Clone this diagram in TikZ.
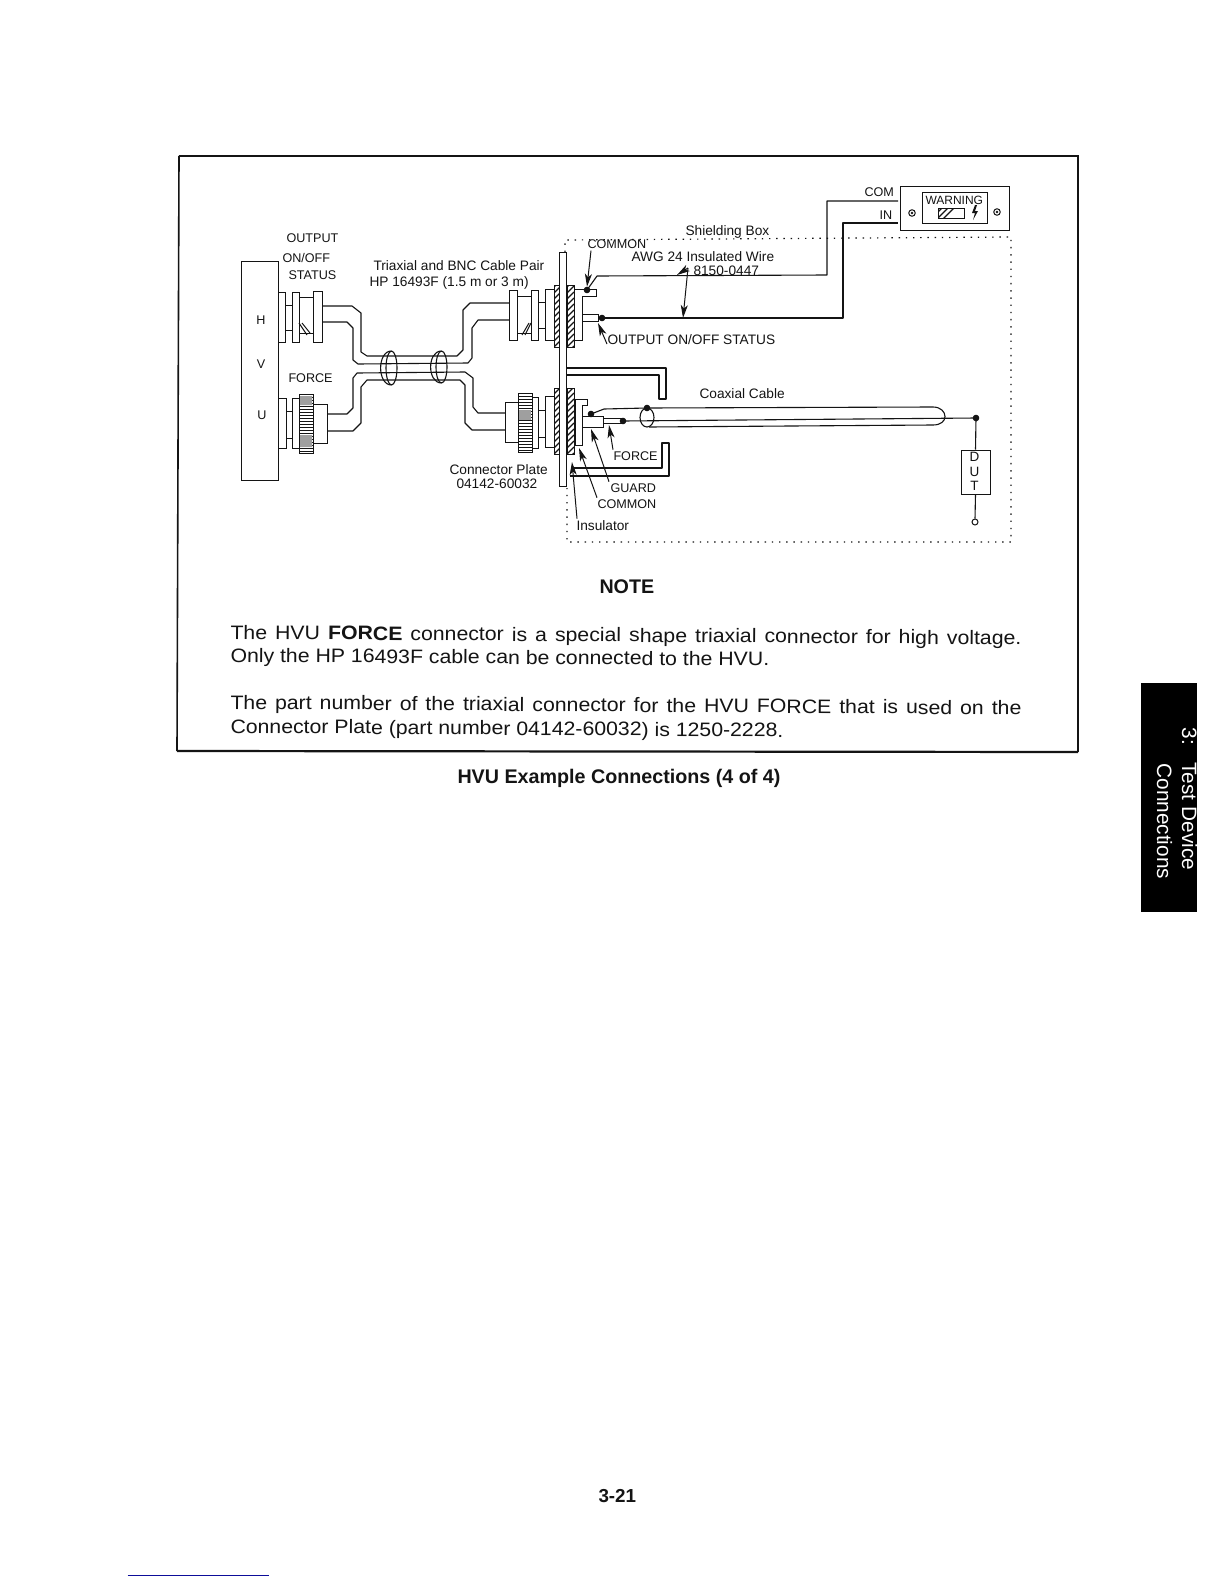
\documentclass[tikz,border=0pt]{standalone}
\usepackage{fontspec}
\setmainfont{Liberation Sans}
\newfontfamily\parafont[FakeStretch=1.09]{Liberation Sans}
\usetikzlibrary{arrows.meta}
\definecolor{ink}{gray}{0.08}
\definecolor{linkblue}{rgb}{0.05,0.05,0.6}
\tikzset{
  wire/.style={draw=ink,line width=1.1pt,line join=round},
  part/.style={draw=ink,fill=white,line width=1pt},
  frameline/.style={draw=ink,line width=1.6pt},
  dots/.style={draw=ink,line width=1.2pt,dash pattern=on 1.4pt off 5.8pt},
  ptr/.style={draw=ink,line width=1pt,-{Stealth[length=13pt,width=7pt,inset=3.5pt]}},
  jn/.style={circle,fill=ink,draw=ink,inner sep=0pt,minimum size=5.5pt},
  lbl/.style={inner sep=0pt,anchor=base west,text=ink,font=\fontsize{12.6}{15}\selectfont},
  lblw/.style={lbl,font=\fontsize{13.7}{15}\selectfont},
  para/.style={inner sep=0pt,anchor=base west,rotate=-0.42,text=ink,font=\parafont\fontsize{19.5}{22}\selectfont},
  head/.style={inner sep=0pt,anchor=base west,text=ink,font=\bfseries\fontsize{19.7}{22}\selectfont},
  tabtext/.style={inner sep=0pt,anchor=base west,rotate=-90,text=white,font=\fontsize{20.8}{24}\selectfont},
}
\newcommand{\hatchbox}[4]{%
  \begin{scope}
    \clip (#1,#2) rectangle (#3,#4);
    \foreach \k in {-6,0,...,72}{\draw[draw=ink,line width=1.3pt] (#1,{#4-\k}) -- (#3,{#4-\k-(#3-#1)});}
  \end{scope}
  \draw[draw=ink,line width=1pt] (#1,#2) rectangle (#3,#4);}
\newcommand{\knurl}[4]{%
  \draw[part] (#1,#2) rectangle (#3,#4);
  \foreach \k in {3,6,...,57}{\draw[draw=ink,line width=.9pt] (#1,{#2+\k}) -- (#3,{#2+\k});}
}
\newcommand{\ringband}[4]{% xleft xright top bottom
  \draw[wire] ({#2-5.5},#3) .. controls ({#1-1},#3) and ({#1-1},#4) .. ({#2-5.5},#4);
  \draw[wire] ({#2-5.5},{(#3+#4)/2}) ellipse [x radius=5.5,y radius={(#4-#3)/2}];
}
\begin{document}
\begin{tikzpicture}[x=1pt,y=-1pt,line width=1pt]
\useasboundingbox (0,0) rectangle (1224,1584);
\fill[white] (0,0) rectangle (1224,1584);

% page frame
\coordinate (fTL) at (179,156); \coordinate (fTR) at (1078,156);
\coordinate (fBR) at (1078,752); \coordinate (fBL) at (177,751);
\draw[frameline] (fTL) -- (fTR) -- (fBR);
\draw[frameline] (fTL) -- (fBL);
\draw[draw=ink,line width=2.2pt] (fBL) -- (fBR);

% shielding box
\coordinate (sTL) at (565,240); \coordinate (sTR) at (1011,237);
\coordinate (sBR) at (1011,542); \coordinate (sBL) at (567,542);
\coordinate (sPt) at (565,252); \coordinate (sPb) at (567,488);
\draw[dots] (sPt) -- (sTL) -- (sTR) -- (sBR) -- (sBL) -- (sPb);

% HVU
\node[part,minimum width=36.5pt,minimum height=218.5pt,inner sep=0pt] (hvu) at (260,371) {};
\node[lbl,anchor=center] (hvuH) at (261,320) {H};
\node[lbl,anchor=center] (hvuV) at (261,364) {V};
\node[lbl,anchor=center] (hvuU) at (262,415) {U};

% cables
\coordinate (cA1) at (322,306); \coordinate (cA2) at (322,322);
\coordinate (cB1) at (509,303); \coordinate (cB2) at (509,320);
\coordinate (cC1) at (327,414); \coordinate (cC2) at (327,431);
\coordinate (cD1) at (505,413); \coordinate (cD2) at (505,430);
\draw[wire] (cA1) -- (352,306) -- (361,313) -- (361,352) -- (367,356) -- (457,356) -- (463,350) -- (463,310) -- (470,303) -- (cB1);
\draw[wire] (cA2) -- (347,322) -- (353,328) -- (353,360) -- (358,364) -- (468,363) -- (472,358) -- (472,328) -- (478,320) -- (cB2);
\draw[wire] (cC1) -- (347,414) -- (353,408) -- (353,378) -- (357,373) -- (465,372) -- (473,378) -- (473,407) -- (478,413) -- (cD1);
\draw[wire] (cC2) -- (353,431) -- (361,423) -- (361,387) -- (367,380) -- (460,380) -- (465,385) -- (465,423) -- (472,430) -- (cD2);
\ringband{378}{397}{351}{385}
\ringband{428}{447}{351}{383}

% HVU output connector
\draw[part] (285,305) rectangle (292,330);
\draw[part] (278,292) rectangle (285,342);
\draw[part] (299,297) rectangle (313,333);
\draw[part] (292,292) rectangle (299,342);
\draw[part] (313,291) rectangle (322,342);
\draw[draw=ink] (299,323) -- (307,335) (302,323) -- (310,333);

% HVU force connector
\draw[part] (286,411) rectangle (292,438);
\draw[part] (278,398) rectangle (286,448);
\draw[part] (292,398) rectangle (299,448);
\draw[part] (313,404) rectangle (327,443);
\knurl{299}{394}{313}{453}
\fill[gray!75] (300,396) rectangle (312,405) (300,435) rectangle (312,447);

% plate side output connector
\draw[part] (517,296) rectangle (531,333);
\draw[part] (538,302) rectangle (545,328);
\draw[part] (509,290) rectangle (517,340);
\draw[part] (531,290) rectangle (538,340);
\draw[part] (545,289) rectangle (554,340);
\draw[draw=ink] (525,335) -- (531,323) (522,335) -- (529,323);

% plate side force connector
\draw[part] (538,410) rectangle (545,437);
\draw[part] (505,402) rectangle (518,442);
\draw[part] (532,397) rectangle (538,448);
\draw[part] (545,396) rectangle (554,447);
\knurl{518}{393}{532}{452}
\fill[gray!75] (519,410) rectangle (531,420);

% connector plate and its nuts
\hatchbox{554}{285}{560}{347}
\hatchbox{567}{285}{574}{347}
\hatchbox{554}{388}{560}{454}
\hatchbox{567}{388}{574}{454}
\node[part,minimum width=6.8pt,minimum height=234pt,inner sep=0pt] (plate) at (563.3,369) {};

% guard shields
\coordinate (shA) at (567,368); \coordinate (shB) at (567,375);
\coordinate (shC) at (572,468); \coordinate (shD) at (570,476);
\draw[wire] (shA) -- (666,368) -- (666,399) -- (659,399) -- (659,375) -- (shB);
\draw[wire] (shC) -- (662,468) -- (662,443) -- (669,443) -- (669,476) -- (shD);

% feed-through pieces
\draw[part] (574,289) -- (596,289) -- (596,296) -- (582,296) -- (582,340) -- (574,340) -- cycle;
\draw[part] (582,314) rectangle (598,321);
\draw[part] (575,399) -- (587,399) -- (587,405) -- (582,405) -- (582,445) -- (575,445) -- cycle;
\draw[part] (603,418) rectangle (622,423);
\draw[part] (582,416) rectangle (603,427);

% junction dots
\node[jn] (dComTop) at (587,290) {};
\node[jn] (dOut) at (602,318) {};
\node[jn] (dGuard) at (591,414) {};
\node[jn] (dForce) at (623,421) {};
\node[jn] (dCoax) at (647,408) {};
\node[jn] (dDut) at (976,418) {};

% warning box
\node[part,minimum width=109pt,minimum height=44pt,inner sep=0pt] (warn) at (954.5,208) {};
\node[part,minimum width=65pt,minimum height=31pt,inner sep=0pt] (warnin) at (954.5,207.5) {};
\node[lbl,font=\fontsize{12}{15}\selectfont] (warnT) at (925,204) {WARNING};
\hatchbox{938}{208}{964}{218}
\fill[ink] (975,205) -- (972,213) -- (975,213) -- (973,220) -- (978,211) -- (975,211) -- (977,205) -- cycle;
\node[circle,draw=ink,line width=1pt,inner sep=0pt,minimum size=6.5pt] (scrA) at (912,213) {};
\node[circle,draw=ink,line width=1pt,inner sep=0pt,minimum size=6.5pt] (scrB) at (997,212) {};
\fill[ink] (912,213) circle (1.3) (997,212) circle (1.3);

% long wires
\coordinate (comEnd) at (898,201); \coordinate (inEnd) at (898,223);
\draw[wire] (dComTop.center) -- (597,276) -- (827,275) -- (827,201) -- (comEnd);
\draw[wire] (dOut.center) -- (843,318) -- (843,223) -- (inEnd);

% coax cable
\coordinate (coaxTop) at (933,407); \coordinate (coaxBot) at (933,425); \coordinate (coaxBotL) at (649,427);
\draw[wire] (dGuard.center) -- (604,409) -- (dCoax.center) -- (coaxTop) .. controls (941,407) and (945,412) .. (945,416.5) .. controls (945,421) and (941,425) .. (coaxBot) -- (coaxBotL);
\draw[wire] (647,417.5) ellipse [x radius=7,y radius=9.5];
\draw[wire] (dForce.center) -- (dDut.center);

% DUT
\node[part,minimum width=29pt,minimum height=44pt,inner sep=0pt] (dut) at (975.5,472) {};
\node[circle,draw=ink,line width=1pt,fill=white,inner sep=0pt,minimum size=6pt] (dutLow) at (975,522) {};
\draw[wire] (dDut.center) -- (dut.north);
\draw[wire] (dut.south) -- (dutLow.north);
\node[lbl,anchor=center,font=\fontsize{13.5}{15}\selectfont] (dutD) at (974.5,457) {D};
\node[lbl,anchor=center,font=\fontsize{13.5}{15}\selectfont] (dutU) at (974.5,472) {U};
\node[lbl,anchor=center,font=\fontsize{13.5}{15}\selectfont] (dutTx) at (974.5,486) {T};

% labels
\node[lbl] (tOutput) at (286,242) {OUTPUT};
\node[lbl] (tOnOff) at (282,262.7) {ON/OFF};
\node[lbl] (tStatus) at (288,279) {STATUS};
\node[lblw] (tTri) at (373,270.5) {Triaxial and BNC Cable Pair};
\node[lblw] (tHp) at (369,286) {HP 16493F (1.5 m or 3 m)};
\node[lbl] (tForceL) at (288,382.7) {FORCE};
\node[lblw] (tPlate) at (449,474) {Connector Plate};
\node[lblw] (tPlateN) at (456,488) {04142-60032};
\node[lbl] (tCommon) at (587,248) {COMMON};
\node[lblw] (tShield) at (685,235) {Shielding Box};
\node[lblw] (tAwg) at (631,261.7) {AWG 24 Insulated Wire};
\node[lblw] (tPart) at (693,275) {8150-0447};
\node[lblw] (tOutSt) at (607,344) {OUTPUT ON/OFF STATUS};
\node[lblw] (tCoax) at (699,398) {Coaxial Cable};
\node[lbl] (tForceR) at (613,460) {FORCE};
\node[lbl] (tGuard) at (610,492) {GUARD};
\node[lbl] (tCommon2) at (597,508) {COMMON};
\node[lblw] (tIns) at (576,530) {Insulator};
\node[lbl] (tCom) at (864,196) {COM};
\node[lbl] (tIn) at (879,219) {IN};

% pointers
\draw[ptr] (tCommon.south west) ++(4,2) -- (dComTop.north);
\coordinate (awgFork) at (688,268);
\coordinate (awgA) at (677,275); \coordinate (awgB) at (683,318);
\draw[ptr] (awgFork) -- (awgA);
\draw[ptr] (awgFork) -- (awgB);
\coordinate (pOut) at (598,323);
\draw[ptr] (tOutSt.base west) -- (pOut);
\coordinate (pForce) at (609,425);
\draw[ptr] (tForceR.north west) ++(0,-1) -- (pForce);
\coordinate (pGuard) at (591,429);
\draw[ptr] (tGuard.north west) ++(-1,-1) -- (pGuard);
\coordinate (pCom) at (579,448);
\draw[ptr] (tCommon2.north west) ++(0,-1) -- (pCom);
\coordinate (pIns) at (572,462);
\draw[ptr] (tIns.north west) ++(1,-1) -- (pIns);

% note
\node[head] (note) at (599,593) {NOTE};
\node[para] (n1) at (230,639) {\makebox[791pt][s]{The HVU \textbf{FORCE} connector is a special shape triaxial connector for high voltage.}};
\node[para] (n2) at (230,662) {Only the HP 16493F cable can be connected to the HVU.};
\node[para] (n3) at (230,709) {\makebox[791pt][s]{The part number of the triaxial connector for the HVU FORCE that is used on the}};
\node[para] (n4) at (230,733) {Connector Plate (part number 04142-60032) is 1250-2228.};
\node[head] (cap) at (457,783) {HVU Example Connections (4 of 4)};

% tab, page number, rule
\node[fill=black,minimum width=56pt,minimum height=229pt,inner sep=0pt] (tab) at (1169,797.5) {};
\node[tabtext] (tab1) at (1182,727) {3:};
\node[tabtext] (tab1b) at (1182,762) {Test Device};
\node[tabtext] (tab2) at (1157,763) {Connections};
\node[head,font=\bfseries\fontsize{18.8}{22}\selectfont] (pg) at (598,1502) {3-21};
\coordinate (ruleA) at (127.5,1575); \coordinate (ruleB) at (268.6,1575);
\draw[draw=linkblue,line width=1pt] (ruleA) -- (ruleB);
\end{tikzpicture}
\end{document}
